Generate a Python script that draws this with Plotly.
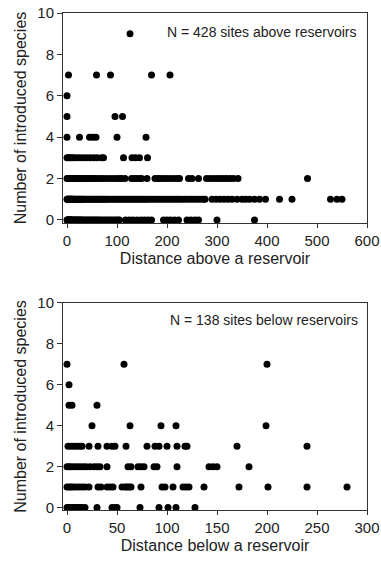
import plotly.graph_objects as go

# ---- Data: sites above reservoirs (distance, number of introduced species) ----
above_0 = [0,1,2,3,4,5,6,7,8,9,10,12,14,16,18,20,22,24,26,28,30,33,36,39,42,45,48,51,54,57,60,63,66,70,74,78,82,86,90,94,98,102,105,
           117,125,132,140,148,155,162,169,193,200,207,215,223,240,248,256,263,300,375]
above_1 = [0,1,2,3,4,5,6,7,8,9,10,11,12,14,16,18,20,22,24,26,28,30,32,35,38,41,44,47,50,53,56,59,62,65,68,71,74,77,80,84,88,92,96,
           100,104,108,112,116,120,124,128,132,136,140,144,148,152,156,160,165,170,175,180,185,190,195,200,205,210,215,220,225,
           230,236,242,248,254,260,266,272,276,290,298,306,314,322,330,340,350,357,365,375,385,397,425,450,527,540,550]
above_2 = [0,2,4,6,8,10,12,15,18,20,23,26,30,33,36,40,44,48,52,56,60,66,72,79,86,93,100,106,109,116,129,134,139,145,149,160,
           176,182,186,193,199,206,213,220,225,243,250,263,279,286,293,300,306,313,319,326,333,342,481]
above_3 = [0,3,6,10,14,20,26,33,39,46,53,60,69,73,113,130,137,145,161]
above_4 = [0,25,45,52,58,100,158]
above_5 = [0,96,111]
above_6 = [0]
above_7 = [3,59,87,169,206]
above_9 = [126]

# ---- Data: sites below reservoirs ----
below_0 = [0,1,2,3,5,7,9,11,13,15,18,30,45,48,50,73,92,101,109,128]
below_1 = [0,2,4,6,9,12,15,18,22,31,34,40,43,46,55,58,60,62,64,74,95,98,106,116,119,122,137,172,201,240,280]
below_2 = [0,2,4,7,10,13,16,19,23,27,30,33,40,61,64,71,74,77,87,90,110,142,146,150,182]
below_3 = [1,4,7,10,13,15,22,31,40,45,48,59,80,88,92,100,110,118,120,170,240]
below_4 = [25,63,94,109,199]
below_5 = [2,5,30]
below_6 = [2]
below_7 = [0,57,200]

above_groups = {0: above_0, 1: above_1, 2: above_2, 3: above_3, 4: above_4, 5: above_5, 6: above_6, 7: above_7, 9: above_9}
below_groups = {0: below_0, 1: below_1, 2: below_2, 3: below_3, 4: below_4, 5: below_5, 6: below_6, 7: below_7}

def flatten(groups):
    xs, ys = [], []
    for k, vals in groups.items():
        xs += vals
        ys += [k] * len(vals)
    return xs, ys

ax_x, ax_y = flatten(above_groups)
bx_x, bx_y = flatten(below_groups)

x_ticks_above = [0, 100, 200, 300, 400, 500, 600]
x_ticks_below = [0, 50, 100, 150, 200, 250, 300]
y_ticks = [0, 2, 4, 6, 8, 10]

FONT = "Liberation Sans, Arial, Helvetica, sans-serif"
TXT = "#222222"
LINE = "#333333"

fig = go.Figure()
marker = dict(color="black", size=7, line=dict(width=0))
fig.add_trace(go.Scatter(x=ax_x, y=ax_y, mode="markers", marker=marker, xaxis="x", yaxis="y", showlegend=False, cliponaxis=False))
fig.add_trace(go.Scatter(x=bx_x, y=bx_y, mode="markers", marker=marker, xaxis="x2", yaxis="y2", showlegend=False, cliponaxis=False))

common_x = dict(showline=True, linecolor=LINE, linewidth=1, mirror=True, ticks="outside", ticklen=4,
                tickcolor=LINE, showgrid=False, zeroline=False, automargin=False,
                tickfont=dict(size=15, color=TXT, family=FONT))
common_y = dict(showline=True, linecolor=LINE, linewidth=1, mirror=True, ticks="outside", ticklen=5,
                tickcolor=LINE, showgrid=False, zeroline=False, tickvals=y_ticks, automargin=False,
                tickfont=dict(size=15, color=TXT, family=FONT))

fig.update_layout(
    width=381, height=561,
    margin=dict(l=63, r=14, t=13, b=51),
    paper_bgcolor="white", plot_bgcolor="white",
    font=dict(family=FONT, color=TXT),
    xaxis=dict(common_x, domain=[0, 1], range=[-8, 600], tickvals=x_ticks_above, anchor="y",
               title=dict(text="Distance above a reservoir", font=dict(size=16, color=TXT), standoff=4)),
    yaxis=dict(common_y, domain=[0.5775, 1], range=[-0.15, 10], anchor="x",
               title=dict(text="Number of introduced species", font=dict(size=16, color=TXT), standoff=6)),
    xaxis2=dict(common_x, domain=[0, 1], range=[-4, 300], tickvals=x_ticks_below, anchor="y2",
                title=dict(text="Distance below a reservoir", font=dict(size=16, color=TXT), standoff=4)),
    yaxis2=dict(common_y, domain=[0, 0.4165], range=[-0.12, 10], anchor="x2",
                title=dict(text="Number of introduced species", font=dict(size=16, color=TXT), standoff=6)),
    annotations=[
        dict(text="N = 428 sites above reservoirs", x=582, y=9.08, xref="x", yref="y",
             xanchor="right", yanchor="middle", showarrow=False, font=dict(size=14, color=TXT, family=FONT)),
        dict(text="N = 138 sites below reservoirs", x=293, y=9.17, xref="x2", yref="y2",
             xanchor="right", yanchor="middle", showarrow=False, font=dict(size=14, color=TXT, family=FONT)),
    ],
)

fig.write_html("out.html", config={"displayModeBar": False},
               post_script="document.body.style.margin='0';document.body.style.padding='0';")
